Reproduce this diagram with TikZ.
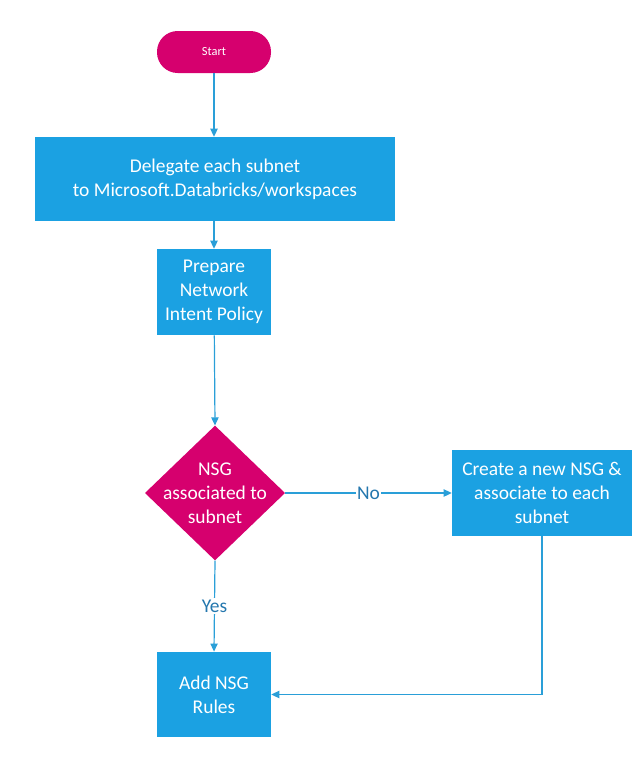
\documentclass[tikz,border=0pt]{standalone}
\usepackage{fontspec}
\setmainfont{Carlito}
\usetikzlibrary{arrows.meta}
\definecolor{mag}{HTML}{D6006E}
\definecolor{blu}{HTML}{1BA1E2}
\definecolor{lin}{HTML}{2A9FD8}
\definecolor{lab}{HTML}{2477AE}
\tikzset{
  px/.style={x=0.75pt,y=-0.75pt},
  proc/.style={draw=none,fill=blu,text=white,align=center,inner sep=0pt,font=\fontsize{14.6}{18}\selectfont},
  term/.style={draw=none,fill=mag,text=white,rounded corners=15.5pt,inner sep=0pt,minimum width=85.5pt,minimum height=31.5pt,font=\fontsize{9.3}{11}\selectfont},
  dec/.style={draw=none,text=white,align=center,inner sep=0pt,minimum width=105pt,minimum height=101pt,font=\fontsize{14.6}{18}\selectfont,
    path picture={\fill[mag] (path picture bounding box.north) -- (path picture bounding box.east) -- (path picture bounding box.south) -- (path picture bounding box.west) -- cycle;}},
  conn/.style={draw=lin,line width=0.9pt,-{Triangle[length=6pt,width=5.5pt]}},
  lbl/.style={text=lab,fill=white,inner sep=1pt,font=\fontsize{14.6}{16}\selectfont}
}
\begin{document}
\begin{tikzpicture}[px]
\useasboundingbox (0,0) rectangle (640,768);
\node[term] (start) at (214,52) {Start};
\node[proc,minimum width=270pt,minimum height=63pt] (deleg) at (215,179) {Delegate each subnet\\to Microsoft.Databricks/workspaces};
\node[proc,minimum width=85.5pt,minimum height=64.5pt] (prep) at (214,292) {Prepare\\Network\\Intent Policy};
\node[dec] (nsg) at (215,493) {NSG\\associated to\\subnet};
\node[proc,minimum width=135pt,minimum height=64.5pt] (create) at (542,493) {Create a new NSG \&\\associate to each\\subnet};
\node[proc,minimum width=85.5pt,minimum height=64pt] (add) at (214,694.5) {Add NSG\\Rules};
\coordinate (corner) at (542,694.5);
\draw[conn] (start) -- (start |- deleg.north);
\draw[conn] (deleg.south -| prep) -- (prep.north);
\draw[conn] (prep) -- (nsg.north);
\draw[conn] (nsg.east) -- node[lbl,pos=0.5] (no) {No} (create.west);
\draw[conn] (nsg.south) -- node[lbl,pos=0.5] (yes) {Yes} (add.north);
\draw[conn] (create.south) -- (corner) -- (add.east);
\end{tikzpicture}
\end{document}
